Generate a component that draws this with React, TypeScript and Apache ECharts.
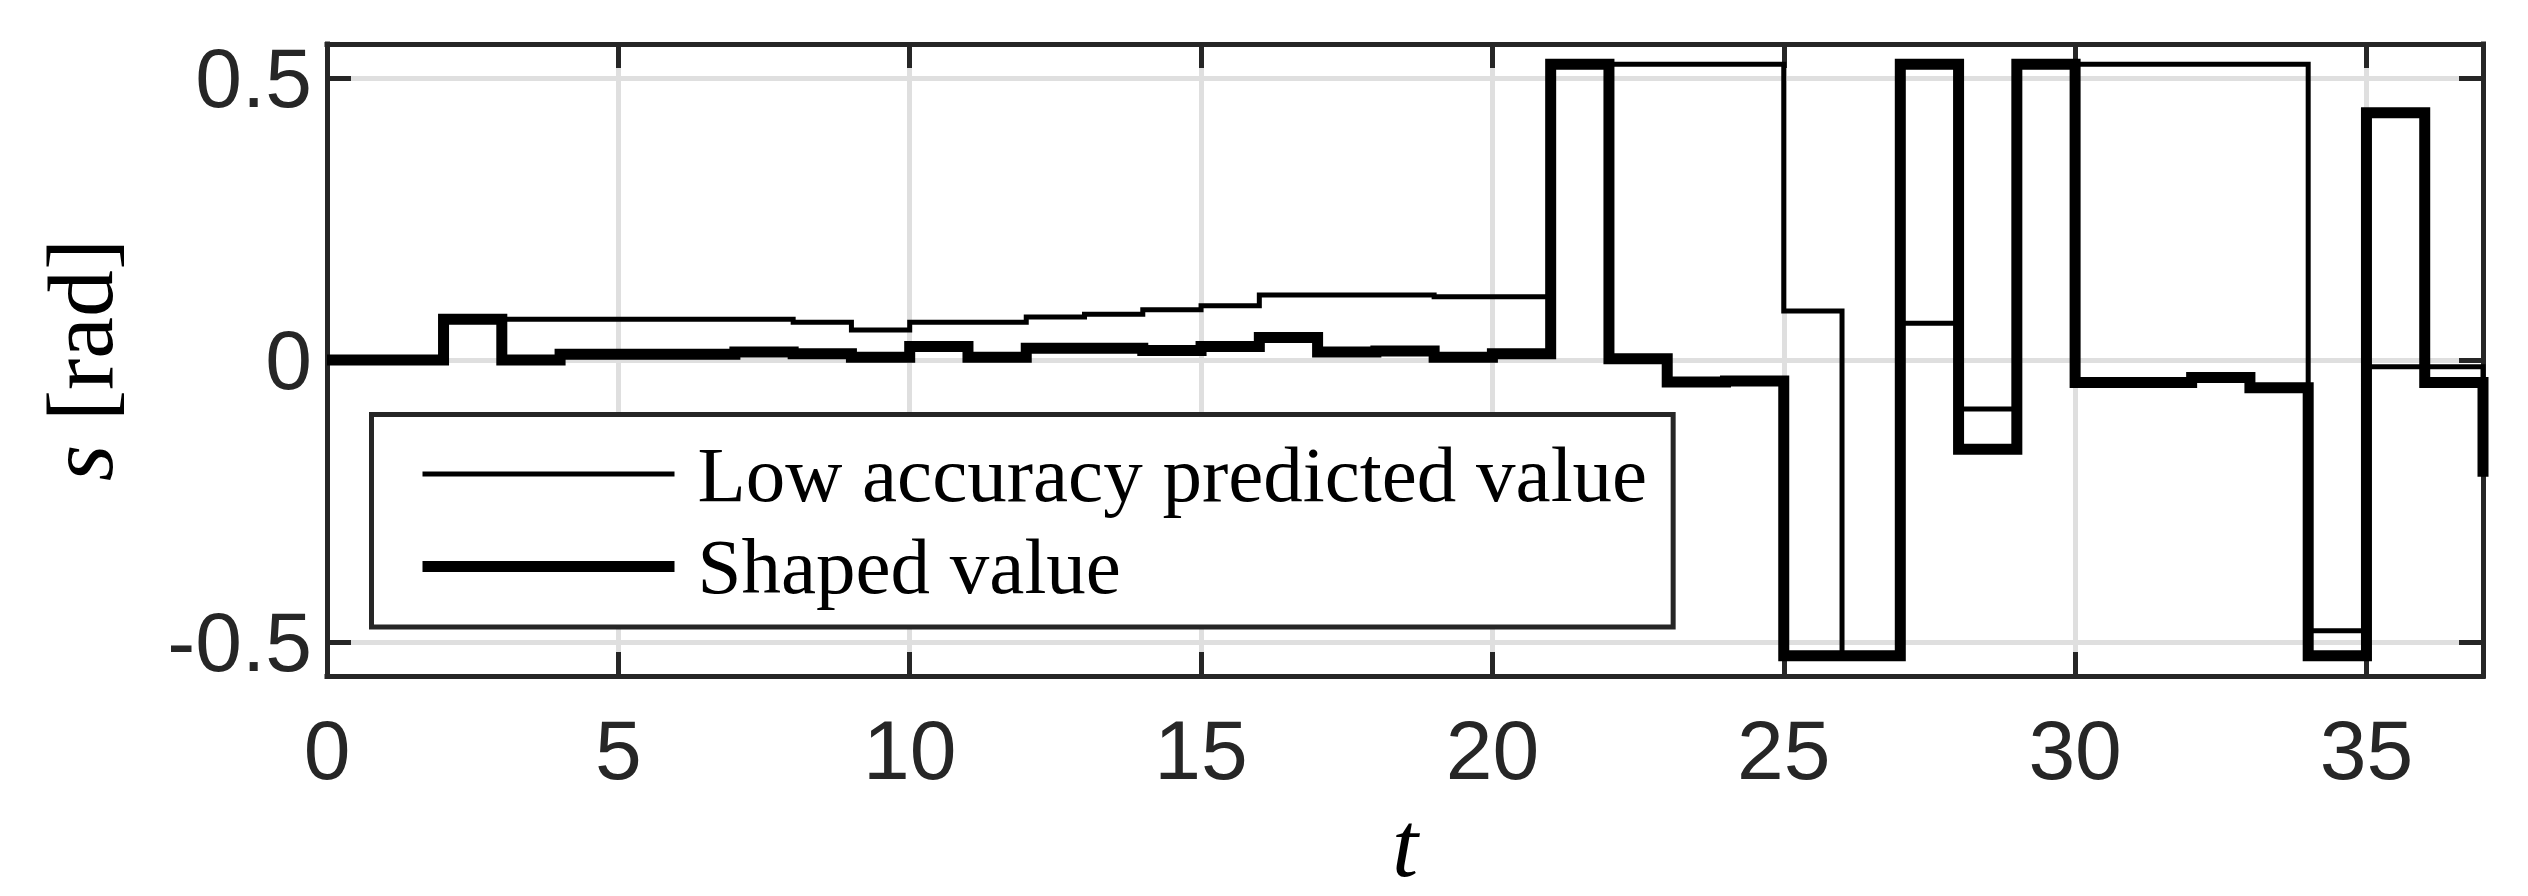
import React, { useEffect, useRef } from 'react';
import * as echarts from 'echarts';

// ---- data ----
const timeSteps = [0, 1, 2, 3, 4, 5, 6, 7, 8, 9, 10, 11, 12, 13, 14, 15, 16, 17, 18, 19, 20, 21, 22, 23, 24, 25, 26, 27, 28, 29, 30, 31, 32, 33, 34, 35, 36, 37];

const predictedValues = [
  0.0, 0.0, 0.072, 0.072, 0.072, 0.072, 0.072, 0.072, 0.067, 0.053,
  0.067, 0.067, 0.076, 0.081, 0.089, 0.096, 0.115, 0.115, 0.115, 0.112,
  0.112, 0.524, 0.524, 0.524, 0.524, 0.087, -0.524, 0.065, -0.087, 0.524,
  0.524, 0.524, 0.524, 0.524, -0.48, -0.012, -0.012, -0.035,
];

const shapedValues = [
  0.0, 0.0, 0.072, 0.0, 0.010, 0.010, 0.010, 0.014, 0.011, 0.005,
  0.024, 0.005, 0.021, 0.021, 0.017, 0.024, 0.040, 0.014, 0.016, 0.005,
  0.011, 0.524, 0.002, -0.039, -0.037, -0.524, -0.524, 0.524, -0.158, 0.524,
  -0.040, -0.040, -0.031, -0.049, -0.524, 0.438, -0.040, -0.207,
];

const seriesNames = ['Low accuracy predicted value', 'Shaped value'];
const xTickValues = [0, 5, 10, 15, 20, 25, 30, 35];
const yTickValues = [-0.5, 0, 0.5];
const xRange = [0, 37];
const yRange = [-0.56, 0.56];

const AXIS_COLOR = '#262626';
const GRID_COLOR = '#dfdfdf';

export default function App() {
  const ref = useRef<HTMLDivElement>(null);

  useEffect(() => {
    if (!ref.current) return;
    const chart = echarts.init(ref.current, null, { renderer: 'svg' });

    const tickLabelStyle = {
      color: AXIS_COLOR,
      fontFamily: 'Liberation Sans',
      fontWeight: 'normal' as const,
      fontSize: 84,
    };
    const axisLineStyle = { show: true, onZero: false, lineStyle: { color: AXIS_COLOR, width: 5, cap: 'square' } };
    const tickStyle = { color: AXIS_COLOR, width: 5 };

    const option: any = {
      animation: false,
      backgroundColor: '#ffffff',
      grid: { left: 327, top: 44, width: 2156, height: 632, containLabel: false, outerBoundsMode: 'none' },
      xAxis: [
        {
          type: 'value',
          min: xRange[0],
          max: xRange[1],
          interval: 5,
          position: 'bottom',
          axisLine: axisLineStyle,
          axisTick: { show: true, inside: true, length: 24, customValues: xTickValues, lineStyle: tickStyle },
          axisLabel: { show: true, margin: 32, customValues: xTickValues, ...tickLabelStyle },
          splitLine: { show: true, lineStyle: { color: GRID_COLOR, width: 5 } },
          name: 't',
          nameLocation: 'middle',
          nameGap: 96,
          nameTextStyle: { fontFamily: 'Liberation Serif', fontStyle: 'italic', fontSize: 94, lineHeight: 94, color: '#000' },
        },
        {
          type: 'value',
          min: xRange[0],
          max: xRange[1],
          interval: 5,
          position: 'top',
          axisLine: axisLineStyle,
          axisTick: { show: true, inside: true, length: 24, customValues: xTickValues, lineStyle: tickStyle },
          axisLabel: { show: false },
          splitLine: { show: false },
        },
      ],
      yAxis: [
        {
          type: 'value',
          min: yRange[0],
          max: yRange[1],
          position: 'left',
          axisLine: axisLineStyle,
          axisTick: { show: true, inside: true, length: 24, customValues: yTickValues, lineStyle: tickStyle },
          axisLabel: { show: true, margin: 15, padding: [15, 0, 0, 0], customValues: yTickValues, ...tickLabelStyle },
          splitLine: { show: true, lineStyle: { color: GRID_COLOR, width: 5 } },
          name: '{i|s} [rad]',
          nameLocation: 'middle',
          nameRotate: 90,
          nameGap: 200,
          nameTextStyle: {
            fontFamily: 'Liberation Serif',
            fontSize: 94,
            color: '#000',
            rich: { i: { fontFamily: 'Liberation Serif', fontStyle: 'italic', fontSize: 94, color: '#000' } },
          },
        },
        {
          type: 'value',
          min: yRange[0],
          max: yRange[1],
          position: 'right',
          axisLine: axisLineStyle,
          axisTick: { show: true, inside: true, length: 24, customValues: yTickValues, lineStyle: tickStyle },
          axisLabel: { show: false },
          splitLine: { show: false },
        },
      ],
      legend: {
        show: true,
        orient: 'vertical',
        left: 371.5,
        top: 414.5,
        padding: [20, 26, 21, 45.5],
        itemGap: 13.6,
        itemWidth: 252,
        itemHeight: 80,
        backgroundColor: '#ffffff',
        borderColor: AXIS_COLOR,
        borderWidth: 5,
        borderRadius: 0,
        selectedMode: false,
        itemStyle: { opacity: 0 },
        lineStyle: { width: 'inherit' },
        textStyle: { fontFamily: 'Liberation Serif', fontSize: 79, color: '#000', padding: [0, 0, 6, 18] },
        data: seriesNames,
      },
      series: [
        {
          name: seriesNames[0],
          type: 'line',
          step: 'end',
          data: timeSteps.map((t, i) => [t, predictedValues[i]]),
          symbol: 'none',
          clip: false,
          silent: true,
          xAxisIndex: 0,
          yAxisIndex: 0,
          z: 3,
          itemStyle: { color: '#000' },
          lineStyle: { color: '#000', width: 5, join: 'miter', cap: 'butt' },
        },
        {
          name: seriesNames[1],
          type: 'line',
          step: 'end',
          data: timeSteps.map((t, i) => [t, shapedValues[i]]),
          symbol: 'none',
          clip: false,
          silent: true,
          xAxisIndex: 0,
          yAxisIndex: 0,
          z: 4,
          itemStyle: { color: '#000' },
          lineStyle: { color: '#000', width: 11, join: 'miter', cap: 'butt' },
        },
      ],
    };

    chart.setOption(option);
    return () => {
      chart.dispose();
    };
  }, []);

  return (
    <div
      ref={ref}
      style={{ position: 'absolute', left: 0, top: 0, width: 2528, height: 896, background: '#fff' }}
    />
  );
}
